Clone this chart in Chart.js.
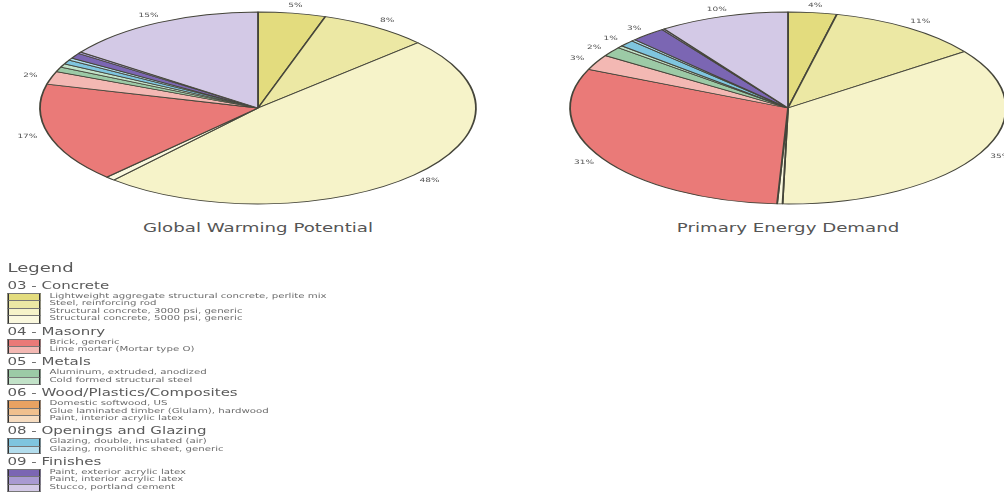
<!DOCTYPE html>
<html>
<head>
<meta charset="utf-8">
<script src="https://cdn.jsdelivr.net/npm/chart.js@4/dist/chart.umd.min.js"></script>
<style>
  body { margin: 0; width: 1004px; height: 498px; overflow: hidden; background: #fff; font-family: "DejaVu Sans", sans-serif; position: relative; }
  canvas { position: absolute; top: 0; }
  .title { position: absolute; top: 220px; width: 300px; text-align: center; font-size: 11.5px; line-height: 16px; color: #555; transform: scaleX(1.58); }
  #legend { position: absolute; left: 0; top: 259px; transform: scaleX(1.5); transform-origin: 0 0; color: #5a5a5a; }
  #legend .head { font-size: 12px; line-height: 18px; margin-left: 5px; margin-bottom: 4px; }
  #legend .group { font-size: 10px; line-height: 10px; margin-left: 5px; margin-bottom: 2px; }
  #legend .rows { position: relative; margin-bottom: 4px; }
  #legend .row { height: 7.4px; line-height: 7.4px; font-size: 6.8px; color: #6a6a6a; white-space: nowrap; position: relative; }
  #legend .sw { position: absolute; left: 5.3px; top: 0; width: 20px; height: 6.4px; border-left: 1px solid #333; border-right: 1px solid #333; border-top: 1px solid #777; }
  #legend .row:last-child .sw { border-bottom: 1px solid #777; }
  #legend .txt { position: absolute; left: 33px; top: 0; }
</style>
</head>
<body>
<canvas id="gwpChart" width="516" height="216" style="left:0"></canvas>
<canvas id="pedChart" width="456" height="216" style="left:560px"></canvas>
<div class="title" style="left:108px">Global Warming Potential</div>
<div class="title" style="left:638px">Primary Energy Demand</div>
<div id="legend"></div>

<script>
// materials, in pie order (clockwise from 12 o'clock)
const materials = [
    'Lightweight aggregate structural concrete, perlite mix',
    'Steel, reinforcing rod',
    'Structural concrete, 3000 psi, generic',
    'Structural concrete, 5000 psi, generic',
    'Brick, generic',
    'Lime mortar (Mortar type O)',
    'Aluminum, extruded, anodized',
    'Cold formed structural steel',
    'Domestic softwood, US',
    'Glue laminated timber (Glulam), hardwood',
    'Paint, interior acrylic latex',
    'Glazing, double, insulated (air)',
    'Glazing, monolithic sheet, generic',
    'Paint, exterior acrylic latex',
    'Paint, interior acrylic latex',
    'Stucco, portland cement'
];
const materialColors = [
    '#e3dc7e', '#ece8a4', '#f6f3c9', '#faf8de',
    '#ea7a78', '#f3b8b3',
    '#9ccaa6', '#c2e2c8',
    '#e8a262', '#f0c08e', '#f6dcc0',
    '#7fc5df', '#b3dded',
    '#7b66b3', '#a99ad2', '#d3c9e6'
];
const groups = ['03 - Concrete', '04 - Masonry', '05 - Metals', '06 - Wood/Plastics/Composites', '08 - Openings and Glazing', '09 - Finishes'];
const groupSizes = [4, 2, 2, 3, 2, 3];

// percentages
const gwpValues = [5.0, 8.1, 48.4, 0.7, 16.8, 2.2, 0.8, 0.6, 0, 0, 0, 0.7, 0.4, 0.9, 0.3, 15.1];
const pedValues = [3.6, 11.4, 35.4, 0.4, 30.8, 2.6, 1.6, 0.4, 0, 0, 0, 1.1, 0.3, 2.6, 0.2, 9.6];

const STRETCH_X = 2.27;

// squash the round pie into the flat ellipse and write the % labels
const ellipsePlugin = {
    id: 'ellipse',
    beforeDatasetsDraw(chart) {
        const arc = chart.getDatasetMeta(0).data[0];
        const ctx = chart.ctx;
        ctx.save();
        ctx.translate(arc.x, arc.y);
        ctx.scale(STRETCH_X, 1);
        ctx.translate(-arc.x, -arc.y);
    },
    afterDatasetsDraw(chart) {
        const ctx = chart.ctx;
        ctx.restore();
        const data = chart.data.datasets[0].data;
        const total = data.reduce((a, b) => a + b, 0);
        ctx.save();
        ctx.fillStyle = '#555';
        ctx.font = '6px "DejaVu Sans"';
        ctx.textAlign = 'center';
        ctx.textBaseline = 'middle';
        chart.getDatasetMeta(0).data.forEach((arc, i) => {
            const pct = data[i] / total * 100;
            if (pct < 1) return;
            const mid = (arc.startAngle + arc.endAngle) / 2;
            const x = arc.x + Math.cos(mid) * arc.outerRadius * STRETCH_X * 1.1;
            const y = arc.y + Math.sin(mid) * arc.outerRadius * 1.08;
            ctx.save();
            ctx.translate(x, y);
            ctx.scale(1.5, 1);
            ctx.fillText(Math.round(pct) + '%', 0, 0);
            ctx.restore();
        });
        ctx.restore();
    }
};

function makePie(id, values) {
    const ctx = document.getElementById(id).getContext('2d');
    return new Chart(ctx, {
        type: 'pie',
        data: {
            labels: materials,
            datasets: [{
                data: values,
                backgroundColor: materialColors,
                borderColor: '#45453a',
                borderWidth: 0.8
            }]
        },
        options: {
            responsive: false,
            animation: false,
            events: [],
            radius: 96,
            layout: { padding: 0 },
            plugins: {
                legend: { display: false },
                tooltip: { enabled: false }
            }
        },
        plugins: [ellipsePlugin]
    });
}

function buildLegend() {
    const box = document.getElementById('legend');
    let html = '<div class="head">Legend</div>';
    let k = 0;
    groups.forEach((g, gi) => {
        html += '<div class="group">' + g + '</div><div class="rows">';
        for (let j = 0; j < groupSizes[gi]; j++, k++) {
            html += '<div class="row"><div class="sw" style="background:' + materialColors[k] + '"></div>' +
                    '<span class="txt">' + materials[k] + '</span></div>';
        }
        html += '</div>';
    });
    box.innerHTML = html;
}

makePie('gwpChart', gwpValues);
makePie('pedChart', pedValues);
buildLegend();
</script>
</body>
</html>
